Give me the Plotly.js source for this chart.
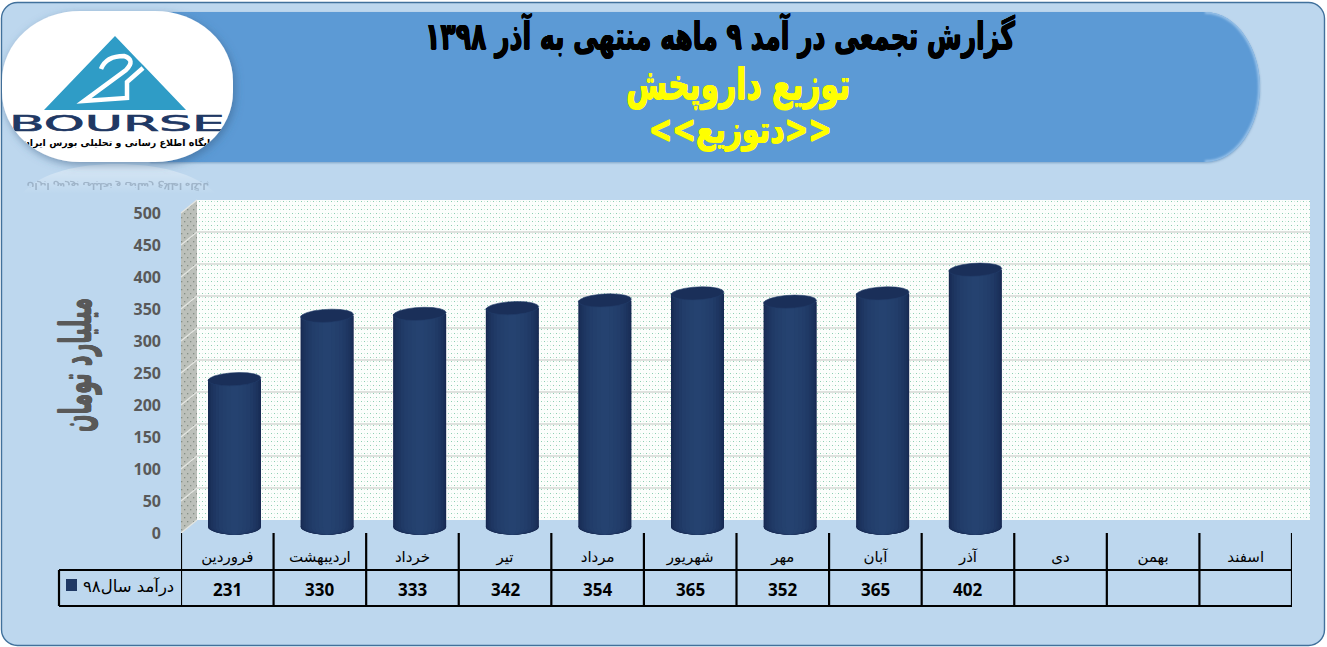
<!DOCTYPE html>
<html><head><meta charset="utf-8">
<script src="https://cdn.plot.ly/plotly-3.0.1.min.js"></script>
<style>
html,body{margin:0;padding:0;background:#fff;width:1327px;height:647px;overflow:hidden}
#back{position:absolute;left:0;top:0}
#chart{position:absolute;left:0;top:0;width:1327px;height:647px}
</style></head><body>
<svg id="back" width="1327" height="647" viewBox="0 0 1327 647" xmlns="http://www.w3.org/2000/svg">
<defs>
<pattern id="dots" width="6" height="8" patternUnits="userSpaceOnUse">
<rect width="6" height="8" fill="#fcfefc"/>
<rect x="1" y="1" width="1" height="1" fill="#8ccfb2"/>
<rect x="4" y="5" width="1" height="1" fill="#8ccfb2"/>
<rect x="1" y="5" width="1" height="1" fill="#d3ecdf"/>
<rect x="4" y="1" width="1" height="1" fill="#d3ecdf"/>
</pattern>
<pattern id="side" width="6" height="8" patternUnits="userSpaceOnUse">
<rect width="6" height="8" fill="#bcc0ba"/>
<rect x="1" y="1" width="1.3" height="1.3" fill="#858f86"/>
<rect x="4" y="5" width="1.3" height="1.3" fill="#858f86"/>
</pattern>
<filter id="soft" x="-10%" y="-10%" width="125%" height="125%"><feDropShadow dx="2" dy="3" stdDeviation="4" flood-color="#3b5f85" flood-opacity=".55"/></filter>
<filter id="soft2" x="-5%" y="-5%" width="110%" height="115%"><feDropShadow dx="0" dy="1" stdDeviation="1" flood-color="#3f6f9f" flood-opacity=".5"/></filter>
<filter id="blur1"><feGaussianBlur stdDeviation="1"/></filter>
<clipPath id="logoclip"><rect x="2" y="11" width="231" height="151" rx="78" ry="70"/></clipPath>
<clipPath id="headclip"><path d="M150 12 H1205 C1238 12 1260 50 1260 87 C1260 124 1238 162 1205 162 H150 Z"/></clipPath>
<linearGradient id="fade" x1="0" x2="0" y1="0" y2="1"><stop offset="0" stop-color="#fff" stop-opacity=".45"/><stop offset="1" stop-color="#fff" stop-opacity="0"/></linearGradient>
</defs>
<rect x="1.5" y="2.5" width="1323" height="643" rx="16" ry="16" fill="#bdd7ee" stroke="#41719c" stroke-width="1.4"/>
<path d="M150 12 H1205 C1238 12 1260 50 1260 87 C1260 124 1238 162 1205 162 H150 Z" fill="#5b9ad5" filter="url(#soft2)"/>
<path d="M1205 12 C1238 12 1260 50 1260 87 C1260 124 1238 162 1205 162" fill="none" stroke="#9cc4ea" stroke-width="3.5" filter="url(#blur1)" clip-path="url(#headclip)"/>
<!-- chart walls -->
<polygon points="181,213 197,200 197,520 181,533" fill="url(#side)"/>
<rect x="197" y="200" width="1113" height="320" fill="url(#dots)"/>
<!-- logo reflection -->
<path d="M22 194 C40 172 80 164 116 164 C155 164 195 172 216 194 Z" fill="url(#fade)"/>
<text x="118" y="186" text-anchor="middle" font-family="DejaVu Sans" font-size="9" font-weight="bold" fill="#7a8ea3" opacity=".5" transform="translate(0,369) scale(1,-1)">پایگاه اطلاع رسانی و تحلیلی بورس ایران</text>
<!-- logo -->
<rect x="2" y="11" width="231" height="151" rx="78" ry="70" fill="#fff" filter="url(#soft)"/>
<g clip-path="url(#logoclip)">
<polygon points="115,36 137,59 143,65 186,110 44,110" fill="#2f9cc6"/>
<path d="M101 69 Q106 56 124 56 Q136 60 126 70 L84 101 L127 98 L127 82 L143 68" fill="none" stroke="#fff" stroke-width="4.5"/>
<text x="9" y="131" font-family="DejaVu Sans" font-size="22" fill="#1f3864" stroke="#1f3864" stroke-width=".6" textLength="216" lengthAdjust="spacingAndGlyphs">BOURSE</text>
<text x="118" y="146" text-anchor="middle" font-family="DejaVu Sans" font-size="9.5" font-weight="bold" fill="#000">پایگاه اطلاع رسانی و تحلیلی بورس ایران</text>
</g>
</svg>
<div id="chart"></div>
<script>
const months = ["فروردین","اردیبهشت","خرداد","تیر","مرداد","شهریور","مهر","آبان","آذر","دی","بهمن","اسفند"];
const revenue98 = [231,330,333,342,354,365,352,365,402,null,null,null];
const revenueLabels = ["231","330","333","342","354","365","352","365","402","","",""];
const yTicks = [0,50,100,150,200,250,300,350,400,450,500];
const seriesName = "درآمد سال۹۸";
const mainTitle = "گزارش تجمعی در آمد ۹ ماهه منتهی به آذر ۱۳۹۸";
const companyTitle = "توزیع داروپخش";
const tickerTitle = "&lt;&lt;دتوزیع&gt;&gt;";
const yTitle = "میلیارد تومان";

const W = 1327, H = 647;
const X = p => p / W, Y = p => 1 - p / H;
const shadeEdge = [21,38,78], shadeMid = [37,66,112];
const layers = 11, barWidth = 0.572;
const traces = [], shapes = [], annotations = [];
const heavy = c => `0.7px 0 ${c}, -0.7px 0 ${c}, 0 0.5px ${c}, 0 -0.5px ${c}`;

// wall subplot first, so its gridlines lie behind the bars
traces.push({type:"bar",x:months,y:months.map(()=>null),xaxis:"x",yaxis:"y",showlegend:false,hoverinfo:"skip"});
traces.push({type:"bar",x:months,y:months.map(()=>null),xaxis:"x2",yaxis:"y2",showlegend:false,hoverinfo:"skip"});

// cylinder shading: nested bars, edge to centre
const colorAt = t => { const c = shadeEdge.map((e,k)=>Math.round(e+(shadeMid[k]-e)*t)); return `rgb(${c.join(",")})`; };
for (let l = 0; l < layers; l++) {
  const t = l/(layers-1), f = Math.cos(t*Math.PI/2);
  traces.push({type:"bar",name:seriesName,x:months,y:revenue98,width:barWidth*f,xaxis:"x3",yaxis:"y3",
    marker:{color:colorAt(Math.sin(t*Math.PI/2)),line:{width:0}},showlegend:false,hoverinfo:l?"skip":"x+y"});
  revenue98.forEach((v,i)=>{ if(v==null) return;
    const rx = 26.5*f;
    shapes.push({type:"circle",layer:"below",xref:"x3",yref:"y3",xsizemode:"pixel",ysizemode:"pixel",
      xanchor:i,yanchor:0,x0:-rx,x1:rx,y0:-7.5,y1:7.5,fillcolor:colorAt(Math.sin(t*Math.PI/2)),line:{width:0}});
  });
}
// cylinder caps
const cap = (() => { const n=[], a=26.5,b=6.5,tilt=0.05;
  for(let d=0;d<=360;d+=20){const r=d*Math.PI/180,x=a*Math.cos(r),y=b*Math.sin(r);
    n.push(`${d?"L":"M"} ${(x).toFixed(2)} ${(y+x*tilt).toFixed(2)}`);}
  return n.join(" ")+" Z"; })();
revenue98.forEach((v,i)=>{ if(v==null) return;
  shapes.push({type:"path",layer:"above",xref:"x3",yref:"y3",xsizemode:"pixel",ysizemode:"pixel",
    xanchor:i,yanchor:v,path:cap,fillcolor:"#1a2f59",line:{color:"#223c69",width:0.6}});
});

// gridline continuation on the side wall
yTicks.forEach(v=>{
  const yb = 520 - v*320/500, yf = 533 - v*320/500;
  shapes.push({type:"line",layer:"below",xref:"paper",yref:"paper",x0:X(181),x1:X(197),y0:Y(yf),y1:Y(yb),line:{color:"#e4e6e2",width:1.2}});
});

// data table
const tbl = {color:"#000",width:2.2};
months.forEach((m,i)=>{
  shapes.push({type:"line",xref:"x2",yref:"paper",x0:i-0.5,x1:i-0.5,y0:Y(533),y1:Y(606),line:tbl});
  annotations.push({xref:"x2",yref:"paper",x:i,y:Y(589),text:revenueLabels[i],showarrow:false,yanchor:"middle",
    font:{family:"Open Sans",size:17,color:"#000",weight:700}});
});
shapes.push({type:"line",xref:"x2",yref:"paper",x0:11.5,x1:11.5,y0:Y(533),y1:Y(606),line:tbl});
[570,606].forEach(p=>shapes.push({type:"line",xref:"paper",yref:"paper",x0:X(59),x1:X(1292),y0:Y(p),y1:Y(p),line:tbl}));
shapes.push({type:"line",xref:"paper",yref:"paper",x0:X(59),x1:X(59),y0:Y(570),y1:Y(606),line:tbl});
shapes.push({type:"rect",xref:"paper",yref:"paper",x0:X(66),x1:X(77),y0:Y(579),y1:Y(591),fillcolor:"#1f3864",line:{width:0}});
annotations.push({xref:"paper",yref:"paper",x:X(176),y:Y(587),text:seriesName,showarrow:false,xanchor:"right",yanchor:"middle",
  font:{family:"DejaVu Sans",size:16.5,color:"#000"}});

// header lines
annotations.push({xref:"paper",yref:"paper",x:X(738),y:Y(84),text:companyTitle,showarrow:false,yanchor:"middle",
  font:{family:"DejaVu Sans",size:43,color:"#ffff00",weight:700,shadow:heavy("#ffff00")}});
annotations.push({xref:"paper",yref:"paper",x:X(741),y:Y(130),text:tickerTitle,showarrow:false,yanchor:"middle",
  font:{family:"DejaVu Sans",size:37,color:"#ffff00",weight:700,shadow:heavy("#ffff00")}});

const yBase = {range:[0,500],fixedrange:true,zeroline:false,showline:false,ticks:"",tickvals:yTicks};
const layout = {
  width:W,height:H,margin:{l:0,r:0,t:0,b:0,pad:0},paper_bgcolor:"rgba(0,0,0,0)",plot_bgcolor:"rgba(0,0,0,0)",
  barmode:"overlay",showlegend:false,
  title:{text:mainTitle,x:X(720),xanchor:"center",y:Y(36),yanchor:"middle",font:{family:"DejaVu Sans",size:38,color:"#000",weight:700,shadow:heavy("#000")}},
  xaxis:{domain:[X(197),X(1310)],categoryorder:"array",categoryarray:months,range:[-0.5,11.5],anchor:"y",showgrid:false,zeroline:false,showticklabels:false,ticks:"",fixedrange:true},
  yaxis:{...yBase,domain:[Y(520),Y(200)],anchor:"x",showgrid:true,gridcolor:"#dfe1de",gridwidth:1.3,showticklabels:false},
  xaxis2:{domain:[X(181),X(1292)],categoryorder:"array",categoryarray:months,range:[-0.5,11.5],anchor:"y2",showgrid:false,zeroline:false,
    ticks:"",ticklabelstandoff:13,tickfont:{family:"DejaVu Sans",size:15,color:"#000"},tickangle:0,fixedrange:true,automargin:false},
  yaxis2:{...yBase,domain:[Y(533),Y(213)],anchor:"x2",showgrid:false,automargin:false,
    tickfont:{family:"Open Sans",size:16,color:"#595959",weight:700},ticklabelstandoff:19,
    title:{text:yTitle,standoff:24,font:{family:"DejaVu Sans",size:44,color:"#595959",weight:700,shadow:heavy("#595959")}}},
  xaxis3:{domain:[X(188.2),X(1299.4)],categoryorder:"array",categoryarray:months,range:[-0.5,11.5],anchor:"y3",showgrid:false,zeroline:false,showticklabels:false,ticks:"",fixedrange:true},
  yaxis3:{range:[-20,500],fixedrange:true,zeroline:false,showline:false,ticks:"",domain:[Y(539.8),Y(207)],anchor:"x3",showgrid:false,showticklabels:false},
  shapes,annotations
};
const squeeze = (el,len) => { if(el){ el.setAttribute("textLength",len); el.setAttribute("lengthAdjust","spacingAndGlyphs"); } };
Plotly.newPlot("chart",traces,layout,{displayModeBar:false,staticPlot:true}).then(gd=>{
  squeeze(gd.querySelector(".gtitle"),590);
  squeeze(gd.querySelector(".g-y2title text"),134);
  const t = gd.querySelector(".g-y2title"); if(t) t.setAttribute("transform","translate(-4,-8)");
  gd.querySelectorAll(".annotation-text-g text, .annotation text").forEach(el=>{
    if(el.textContent===companyTitle) squeeze(el,224);
    if(el.textContent==="<<دتوزیع>>") squeeze(el,183);
  });
});
</script>
</body></html>
